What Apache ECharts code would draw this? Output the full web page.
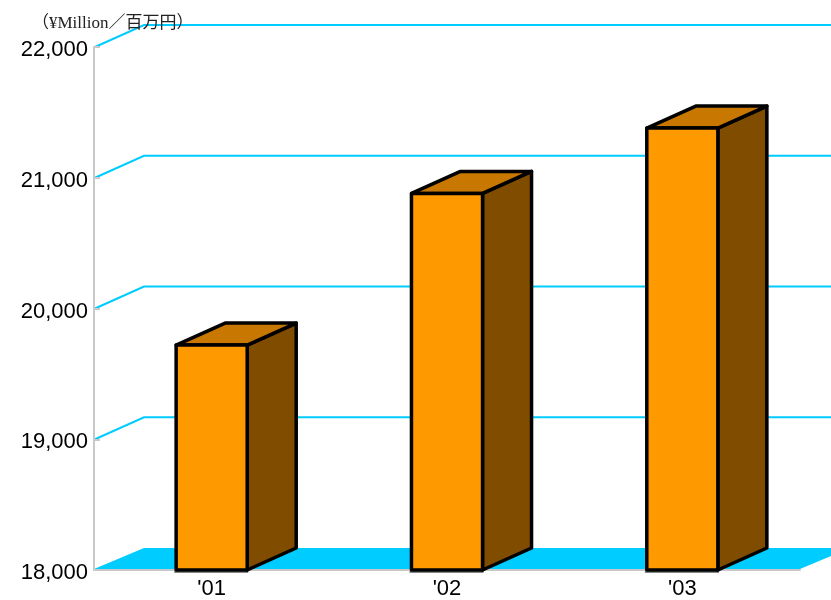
<!DOCTYPE html>
<html>
<head>
<meta charset="utf-8">
<script src="https://cdn.jsdelivr.net/npm/echarts@6/dist/echarts.min.js"></script>
<style>html,body{margin:0;padding:0;background:#fff}#c{width:831px;height:600px}</style>
</head>
<body>
<div id="c"></div>
<script>
const categories = ["'01", "'02", "'03"];
const values = [19720, 20880, 21380];
const gridValues = [19000, 20000, 21000, 22000];
const yMin = 18000, yMax = 22000, yStep = 1000;
const unitLabel = "（¥Million／百万円）";

const DX = 49, DY = -22;
const chart = echarts.init(document.getElementById('c'), null, {renderer: 'canvas'});

function renderBar(params, api) {
  const i = api.value(0), v = api.value(1);
  const top = api.coord([i, v]);
  const base = api.coord([i, yMin]);
  const bw = api.size([1, 0])[0] * 0.302;
  const x0 = top[0] - bw / 2, x1 = top[0] + bw / 2, yt = top[1], yb = base[1];
  const stroke = {stroke: '#000', lineWidth: 3.5, lineJoin: 'round'};
  return {
    type: 'group',
    children: [
      {type: 'line', shape: {x1: x0 - 2, y1: yb + 2, x2: x1 + 1, y2: yb + 2}, style: {stroke: '#888', lineWidth: 2}},
      {type: 'polygon', shape: {points: [[x1, yt], [x1 + DX, yt + DY], [x1 + DX, yb + DY], [x1, yb]]}, style: Object.assign({fill: '#7F4C00'}, stroke)},
      {type: 'polygon', shape: {points: [[x0, yt], [x0 + DX, yt + DY], [x1 + DX, yt + DY], [x1, yt]]}, style: Object.assign({fill: '#C87800'}, stroke)},
      {type: 'rect', shape: {x: x0, y: yt, width: bw, height: yb - yt}, style: Object.assign({fill: '#FF9900'}, stroke)}
    ]
  };
}

function renderGrid(params, api) {
  const cs = params.coordSys;
  const p = api.coord([0, api.value(1)]);
  const x0 = cs.x, y = p[1];
  return {
    type: 'polyline',
    shape: {points: [[x0 + 1, y], [x0 + DX + 1, y + DY], [cs.x + cs.width + DX + 40, y + DY]]},
    style: {stroke: '#00CCFF', lineWidth: 2, fill: null}
  };
}

function renderFloor(params, api) {
  const cs = params.coordSys;
  const y = api.coord([0, api.value(1)])[1];
  const x0 = cs.x, x1 = cs.x + cs.width;
  return {
    type: 'polygon',
    shape: {points: [[x0, y - 1], [x1, y - 1], [x1 + DX + 1, y + DY], [x0 + DX + 1, y + DY]]},
    style: {fill: '#00CCFF'}
  };
}

chart.setOption({
  animation: false,
  title: {
    text: unitLabel, left: 27, top: 10,
    textStyle: {fontSize: 17, fontWeight: 'normal', color: '#222', fontFamily: '"Liberation Serif", "Noto Sans CJK JP", serif'}
  },
  grid: {left: 94, right: 31, top: 47, bottom: 30, containLabel: false},
  xAxis: {
    type: 'category', data: categories, z: 3,
    axisLine: {lineStyle: {color: '#C8C8C8', width: 2}},
    axisTick: {inside: true, length: 8, lineStyle: {color: '#C8C8C8', width: 2}},
    axisLabel: {fontSize: 22, color: '#000', margin: 8, fontFamily: '"Liberation Sans", Arial, sans-serif'}
  },
  yAxis: {
    type: 'value', min: yMin, max: yMax, interval: yStep, z: 3,
    axisLine: {show: true, lineStyle: {color: '#C8C8C8', width: 2}},
    axisTick: {show: true, inside: true, length: 6, lineStyle: {color: '#C8C8C8', width: 2}},
    splitLine: {show: false},
    axisLabel: {
      fontSize: 22, color: '#000', margin: 6, fontFamily: '"Liberation Sans", Arial, sans-serif',
      formatter: v => '{n|' + v.toLocaleString('en-US') + '}',
      rich: {n: {fontSize: 22, color: '#000', fontFamily: '"Liberation Sans", Arial, sans-serif', padding: [6, 0, 0, 0]}}
    }
  },
  series: [
    {type: 'custom', z: 1, clip: false, renderItem: renderFloor, data: [[0, yMin]], silent: true},
    {type: 'custom', z: 1, clip: false, renderItem: renderGrid, data: gridValues.map(v => [0, v]), silent: true},
    {type: 'custom', z: 5, clip: false, renderItem: renderBar, data: categories.map((c, i) => [i, values[i]])}
  ]
});
</script>
</body>
</html>
